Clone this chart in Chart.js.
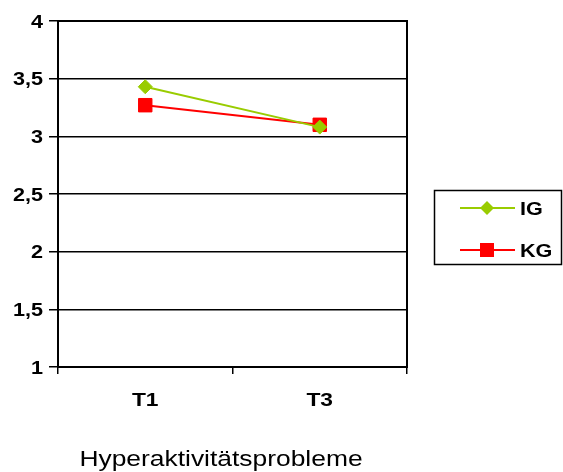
<!DOCTYPE html>
<html>
<head>
<meta charset="utf-8">
<script src="https://cdn.jsdelivr.net/npm/chart.js@4.4.1/dist/chart.umd.min.js"></script>
<style>
  html, body { margin: 0; padding: 0; background: #fff; }
  #wrap { width: 563px; height: 472px; }
</style>
</head>
<body>
<div id="wrap"><canvas id="chart"></canvas></div>
<script>
const categories = ["T1", "T3"];
const seriesNames = ["IG", "KG"];
const igValues = [3.43, 3.08];
const kgValues = [3.27, 3.10];
const yTicks = [1, 1.5, 2, 2.5, 3, 3.5, 4];
const chartTitle = "Hyperaktivitätsprobleme";

const FONT = "Arial, 'Liberation Sans', sans-serif";
const STRETCH = 1.2; // the original text is a bit wider than plain Arial

function wideText(ctx, text, x, y, font, align) {
  ctx.save();
  ctx.font = font;
  ctx.fillStyle = "#000";
  ctx.textAlign = align;
  ctx.textBaseline = "alphabetic";
  ctx.translate(x, y);
  ctx.scale(STRETCH, 1);
  ctx.fillText(text, 0, 0);
  ctx.restore();
}

// box round the plot area (right edge is not drawn by the axes)
const plotFrame = {
  id: "plotFrame",
  beforeDatasetsDraw(chart) {
    const { ctx, chartArea: a } = chart;
    ctx.save();
    ctx.strokeStyle = "#000";
    ctx.lineWidth = 2;
    ctx.strokeRect(a.left, a.top, a.right - a.left, a.bottom - a.top);
    ctx.restore();
  }
};

// tick labels, legend box and title
const textLayer = {
  id: "textLayer",
  afterDraw(chart) {
    const ctx = chart.ctx;
    const xs = chart.scales.x, ys = chart.scales.y;

    ys.ticks.forEach((t, i) => {
      const label = String(t.value).replace(".", ",");
      wideText(ctx, label, 43, ys.getPixelForTick(i) + 6.5, "bold 18px " + FONT, "right");
    });
    xs.ticks.forEach((t, i) => {
      wideText(ctx, categories[t.value], xs.getPixelForTick(i), 406, "bold 19px " + FONT, "center");
    });

    ctx.save();
    ctx.strokeStyle = "#000";
    ctx.lineWidth = 1.5;
    ctx.strokeRect(434.5, 190.5, 127, 74);

    chart.data.datasets.forEach((ds, i) => {
      const y = 208 + i * 42;
      ctx.strokeStyle = ds.borderColor;
      ctx.lineWidth = 2;
      ctx.beginPath();
      ctx.moveTo(460, y);
      ctx.lineTo(515, y);
      ctx.stroke();

      ctx.fillStyle = ds.pointBackgroundColor;
      ctx.beginPath();
      if (ds.pointStyle === "rectRot") {
        ctx.moveTo(487, y - 7);
        ctx.lineTo(494, y);
        ctx.lineTo(487, y + 7);
        ctx.lineTo(480, y);
        ctx.closePath();
      } else {
        ctx.rect(480, y - 7, 14, 14);
      }
      ctx.fill();

      wideText(ctx, ds.label, 520, y + 6.5, "bold 18px " + FONT, "left");
    });
    ctx.restore();

    wideText(ctx, chartTitle, 221, 466, "22px " + FONT, "center");
  }
};

new Chart(document.getElementById("chart"), {
  type: "line",
  data: {
    labels: categories,
    datasets: [
      {
        label: seriesNames[0],
        data: igValues,
        borderColor: "#99CC00",
        backgroundColor: "#99CC00",
        pointBackgroundColor: "#99CC00",
        pointBorderColor: "#99CC00",
        pointStyle: "rectRot",
        pointRadius: 7,
        pointBorderWidth: 1,
        borderWidth: 2,
        tension: 0
      },
      {
        label: seriesNames[1],
        data: kgValues,
        borderColor: "#FF0000",
        backgroundColor: "#FF0000",
        pointBackgroundColor: "#FF0000",
        pointBorderColor: "#FF0000",
        pointStyle: "rect",
        pointRadius: 9.5,
        pointBorderWidth: 1,
        borderWidth: 2,
        tension: 0
      }
    ]
  },
  options: {
    responsive: true,
    maintainAspectRatio: false,
    animation: false,
    layout: { padding: { top: 21, right: 156, bottom: 0, left: 0 } },
    plugins: {
      legend: { display: false },
      tooltip: { enabled: false },
      title: { display: false }
    },
    scales: {
      x: {
        offset: true,
        grid: {
          offset: true,
          drawOnChartArea: false,
          drawTicks: true,
          tickLength: 7,
          color: "#000",
          lineWidth: 1.5
        },
        border: { display: true, color: "#000", width: 2 },
        ticks: { display: false },
        afterFit(scale) { scale.height = 105; }
      },
      y: {
        min: 1,
        max: 4,
        afterBuildTicks(scale) {
          scale.ticks = yTicks.map(v => ({ value: v }));
        },
        grid: {
          color: "#000",
          lineWidth: 1.5,
          drawTicks: true,
          tickLength: 9
        },
        border: { display: true, color: "#000", width: 2 },
        ticks: { display: false },
        afterFit(scale) { scale.width = 58; }
      }
    }
  },
  plugins: [plotFrame, textLayer]
});
</script>
</body>
</html>
